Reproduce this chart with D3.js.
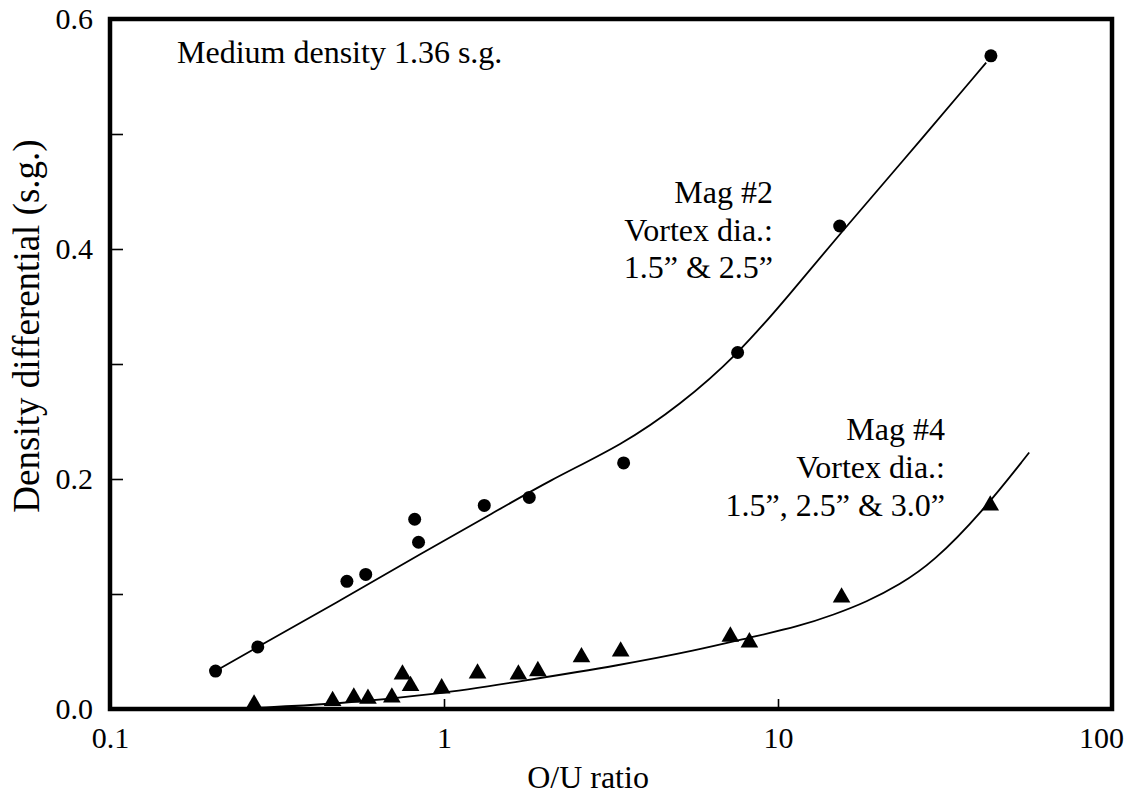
<!DOCTYPE html>
<html>
<head>
<meta charset="utf-8">
<script src="https://cdn.jsdelivr.net/npm/d3@7"></script>
<style>
  body { margin: 0; background: #fff; }
  svg text { font-family: "Liberation Serif", "Times New Roman", Times, "DejaVu Serif", serif !important; fill: #000; }
</style>
</head>
<body>
<svg width="1135" height="795"></svg>
<script>
// Mag #2 points (circles)
const mag2X = [0.207, 0.277, 0.512, 0.583, 0.817, 0.839, 1.32, 1.80, 3.45, 7.57, 15.3, 43.4];
const mag2Y = [0.033, 0.054, 0.111, 0.117, 0.165, 0.145, 0.177, 0.184, 0.214, 0.310, 0.420, 0.568];
// Mag #2 fitted curve
const fit2X = [0.207, 0.277, 0.494, 0.863, 1.34, 2.07, 3.43, 5.07, 7.57, 10.8, 15.3, 23.1, 42.0];
const fit2Y = [0.033, 0.054, 0.095, 0.136, 0.167, 0.199, 0.230, 0.264, 0.308, 0.360, 0.413, 0.473, 0.562];

// Mag #4 points (triangles)
const mag4X = [0.270, 0.464, 0.537, 0.592, 0.698, 0.751, 0.794, 0.984, 1.26, 1.67, 1.91, 2.58, 3.38, 7.20, 8.21, 15.5, 43.2];
const mag4Y = [0.004, 0.007, 0.010, 0.009, 0.010, 0.030, 0.020, 0.018, 0.031, 0.030, 0.033, 0.045, 0.050, 0.063, 0.058, 0.097, 0.177];
// Mag #4 fitted curve
const fit4X = [0.268, 0.464, 0.970, 1.68, 3.36, 5.70, 8.21, 11.6, 14.7, 18.4, 23.1, 29.0, 40.8, 56.5];
const fit4Y = [0.001, 0.004, 0.013, 0.024, 0.038, 0.051, 0.062, 0.072, 0.082, 0.093, 0.108, 0.127, 0.171, 0.223];

const xTicks = [0.1, 1, 10, 100];
const yTicks = [0, 0.1, 0.2, 0.3, 0.4, 0.5, 0.6];
const yLabeled = [0, 0.2, 0.4, 0.6];

const svg = d3.select("svg");
const plotL = 110, plotR = 1112, plotT = 19, plotB = 709;

const x = d3.scaleLog().domain([0.1, 100]).range([plotL, plotR]);
const y = d3.scaleLinear().domain([0, 0.6]).range([plotB, plotT]);

// axes (ticks point inward)
const yAxis = svg.append("g")
    .attr("transform", `translate(${plotL},0)`)
    .call(d3.axisLeft(y).tickValues(yTicks).tickSize(-13).tickPadding(17)
        .tickFormat(d => yLabeled.includes(d) ? d3.format(".1f")(d) : ""));
yAxis.attr("font-family", null);
yAxis.select(".domain").remove();
yAxis.selectAll("line").attr("stroke-width", 1.6);
yAxis.selectAll("text").style("font-size", "30px");

const xAxis = svg.append("g")
    .attr("transform", `translate(0,${plotB})`)
    .call(d3.axisBottom(x).tickValues(xTicks).tickSize(-10).tickPadding(18)
        .tickFormat(d => d < 1 ? String(d) : d3.format("d")(d)));
xAxis.attr("font-family", null);
xAxis.select(".domain").remove();
xAxis.selectAll("line").attr("stroke-width", 1.6);
xAxis.selectAll("text").style("font-size", "30px");
xAxis.selectAll(".tick").filter(d => d === 100).select("text").attr("dx", -11);

// frame
svg.append("rect")
    .attr("x", plotL).attr("y", plotT)
    .attr("width", plotR - plotL).attr("height", plotB - plotT)
    .attr("fill", "none").attr("stroke", "#000").attr("stroke-width", 4.5);

// fitted curves
const line = d3.line().x(d => x(d[0])).y(d => y(d[1])).curve(d3.curveBasis);
svg.append("path")
    .datum(fit2X.map((v, i) => [v, fit2Y[i]]))
    .attr("d", line).attr("fill", "none").attr("stroke", "#000").attr("stroke-width", 1.8);
svg.append("path")
    .datum(fit4X.map((v, i) => [v, fit4Y[i]]))
    .attr("d", line).attr("fill", "none").attr("stroke", "#000").attr("stroke-width", 1.8);

// markers
svg.append("g").selectAll("circle")
    .data(mag2X.map((v, i) => [v, mag2Y[i]]))
    .join("circle")
    .attr("cx", d => x(d[0])).attr("cy", d => y(d[1]))
    .attr("r", 6.5).attr("fill", "#000");

const tri = d3.symbol().type(d3.symbolTriangle).size(135);
svg.append("g").selectAll("path")
    .data(mag4X.map((v, i) => [v, mag4Y[i]]))
    .join("path")
    .attr("transform", d => `translate(${x(d[0])},${y(d[1])})`)
    .attr("d", tri).attr("fill", "#000");

// annotations
const fs = "32px";
svg.append("text").attr("x", 177).attr("y", 63).style("font-size", fs)
    .text("Medium density 1.36 s.g.");

const note2 = ["Mag #2", "Vortex dia.:", "1.5\u201D & 2.5\u201D"];
svg.append("g").selectAll("text").data(note2).join("text")
    .attr("x", 773).attr("y", (d, i) => 203 + i * 37.5)
    .attr("text-anchor", "end").style("font-size", fs).text(d => d);

const note4 = ["Mag #4", "Vortex dia.:", "1.5\u201D, 2.5\u201D & 3.0\u201D"];
svg.append("g").selectAll("text").data(note4).join("text")
    .attr("x", 945).attr("y", (d, i) => 440 + i * 38)
    .attr("text-anchor", "end").style("font-size", fs).text(d => d);

// axis titles
svg.append("text").attr("x", 588).attr("y", 788)
    .attr("text-anchor", "middle").style("font-size", fs).text("O/U ratio");
svg.append("text")
    .attr("transform", "translate(39,326) rotate(-90)")
    .attr("text-anchor", "middle").style("font-size", "37px")
    .text("Density differential (s.g.)");
</script>
</body>
</html>
